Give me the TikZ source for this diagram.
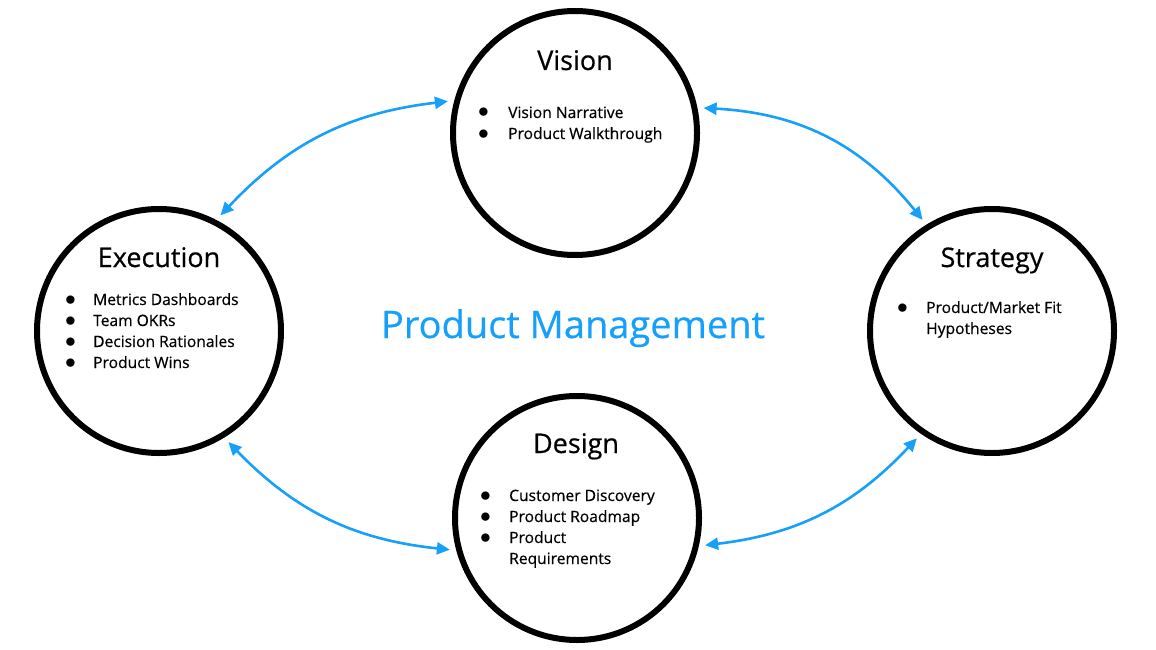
\documentclass[tikz,border=0pt]{standalone}
\usepackage{fontspec}
\setmainfont{Open Sans}[FakeBold=0.5]
\usetikzlibrary{arrows.meta}

\definecolor{pmblue}{RGB}{22,160,250}
\newcommand\pmdot{\smash{\scalebox{1.5}{$\bullet$}}}

\tikzset{
	phase/.style={draw,circle,line width=6pt,minimum size=244pt,inner sep=0pt,outer sep=9pt},
	phasetitle/.style={anchor=base,inner sep=0pt,font=\fontsize{27}{32}\selectfont},
	phaselist/.style={anchor=base west,inner sep=0pt,font=\fontsize{15.6}{21}\selectfont},
	link/.style={pmblue,line width=2.6pt,{Triangle[length=13pt,width=12pt]}-{Triangle[length=13pt,width=12pt]}}
}

\begin{document}
\begin{tikzpicture}[x=1pt,y=-1pt]
	\useasboundingbox (0,0) rectangle (1156,650);
	\node[phase] (vision) at (575,133) {};
	\node[phase] (execution) at (159,331) {};
	\node[phase] (strategy) at (992,331) {};
	\node[phase] (design) at (577,518) {};

	\node[phasetitle] (vtitle) at (575,70) {Vision};
	\node[phasetitle] (etitle) at (159,267) {Execution};
	\node[phasetitle] (stitle) at (992,267) {Strategy};
	\node[phasetitle] (dtitle) at (576,453) {Design};

	\node[phaselist] (vlist) at (478,118) {\begin{tabular}[t]{@{}p{30pt}@{}l@{}}
		\pmdot & Vision Narrative\\
		\pmdot & Product Walkthrough
	\end{tabular}};
	\node[phaselist] (elist) at (65,305) {\begin{tabular}[t]{@{}p{28pt}@{}l@{}}
		\pmdot & Metrics Dashboards\\
		\pmdot & Team OKRs\\
		\pmdot & Decision Rationales\\
		\pmdot & Product Wins
	\end{tabular}};
	\node[phaselist] (slist) at (897,313) {\begin{tabular}[t]{@{}p{29pt}@{}l@{}}
		\pmdot & Product/Market Fit\\
		 & Hypotheses
	\end{tabular}};
	\node[phaselist] (dlist) at (480,501) {\begin{tabular}[t]{@{}p{29pt}@{}l@{}}
		\pmdot & Customer Discovery\\
		\pmdot & Product Roadmap\\
		\pmdot & Product\\
		 & Requirements
	\end{tabular}};

	\node[anchor=base,pmblue,font=\fontsize{38}{44}\selectfont] (pm) at (573,338) {Product Management};

	\draw[link] (vision.166) to[bend right=20] (execution.62);
	\draw[link] (vision.11) to[bend left=24] (strategy.122);
	\draw[link] (execution.-58) to[bend right=20] (design.194);
	\draw[link] (strategy.235) to[bend left=20] (design.-12);
\end{tikzpicture}
\end{document}
